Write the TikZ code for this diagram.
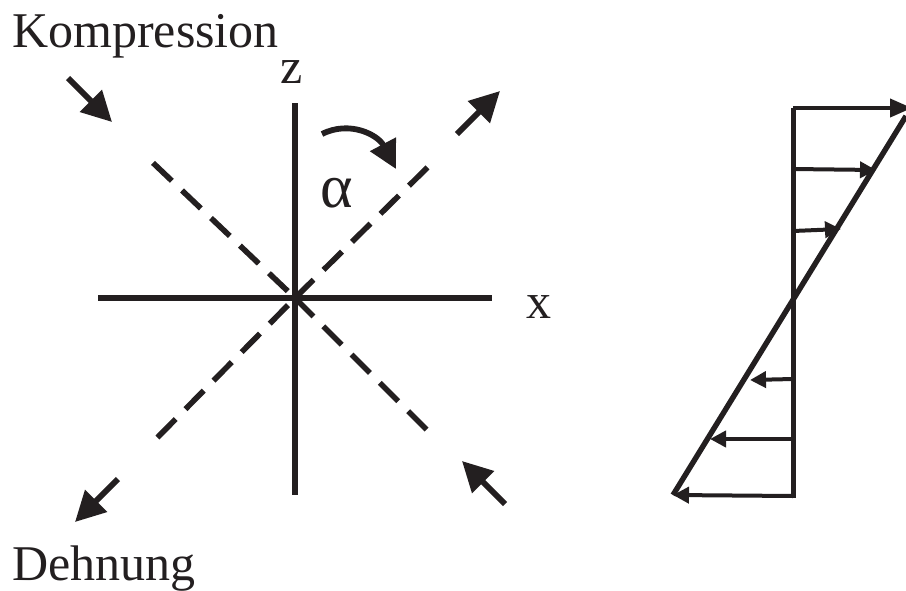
\documentclass[tikz,border=0pt]{standalone}
\usepackage{fontspec}
\setmainfont{Liberation Serif}
\usetikzlibrary{arrows.meta}
\definecolor{ink}{HTML}{231F20}
\begin{document}
\begin{tikzpicture}[x=1pt,y=-1pt,
  axis/.style={draw=ink,line width=6pt},
  dashline/.style={draw=ink,line width=5.6pt,dash pattern=on 26pt off 14pt},
  bigarrow/.style={draw=ink,line width=5.8pt,-{Triangle[length=30pt,width=30pt]}},
  shear/.style={draw=ink,line width=4pt,-{Triangle[length=16pt,width=16pt]}},
  lbl/.style={text=ink,font=\fontsize{50}{52}\selectfont,inner sep=0pt}]
\useasboundingbox (0,0) rectangle (906,590);
% cross
\coordinate (C) at (295,298);
\coordinate (zt) at (295,103);
\coordinate (zb) at (295,495);
\coordinate (xl) at (98,298);
\coordinate (xr) at (492,298);
\draw[axis] (zt) -- (zb);
\draw[axis] (xl) -- (xr);
% dashed diagonals
\coordinate (ne) at (433,162);
\coordinate (sw) at (155,440);
\coordinate (nw) at (150,160);
\coordinate (se) at (432,435);
\draw[dashline] (C) -- (ne);
\draw[dashline,dash phase=-10pt] (C) -- (sw);
\draw[dashline,dash phase=-10pt] (C) -- (nw);
\draw[dashline] (C) -- (se);
% outer arrows
\coordinate (a1s) at (457,134); \coordinate (a1e) at (500,91);
\coordinate (a2s) at (118,479); \coordinate (a2e) at (75,522);
\coordinate (a3s) at (68,78);   \coordinate (a3e) at (112,122);
\coordinate (a4s) at (505,504); \coordinate (a4e) at (462,461);
\draw[bigarrow] (a1s) -- (a1e);
\draw[bigarrow] (a2s) -- (a2e);
\draw[bigarrow] (a3s) -- (a3e);
\draw[bigarrow] (a4s) -- (a4e);
% alpha arc
\coordinate (arcS) at (322,134);
\coordinate (arcE) at (396,169);
\draw[draw=ink,line width=5.8pt,-{Triangle[length=28pt,width=28pt]}] (arcS) .. controls (350,120) and (378,135) .. (arcE);
% labels
\node[lbl,anchor=base west] (komp) at (12,47) {Kompression};
\node[lbl,anchor=base west] (deh) at (12,580) {Dehnung};
\node[lbl,anchor=base] (zlab) at (292,83) {z};
\node[lbl,anchor=base] (xlab) at (539,318) {x};
\node[lbl,anchor=base,font=\fontsize{62}{64}\selectfont] (alab) at (337,207) {α};
% shear profile
\coordinate (vt) at (793,108);
\coordinate (vb) at (793,498);
\coordinate (dt) at (906,116);
\coordinate (db) at (673,495);
\draw[draw=ink,line width=5pt] (vt) -- (vb);
\draw[draw=ink,line width=5.4pt] (dt) -- (db);
\coordinate (r1s) at (793,108); \coordinate (r1e) at (912,108);
\coordinate (r2s) at (793,169); \coordinate (r2e) at (876,170);
\coordinate (r3s) at (793,231); \coordinate (r3e) at (841,229);
\coordinate (r4s) at (793,379); \coordinate (r4e) at (750,380);
\coordinate (r5s) at (793,439); \coordinate (r5e) at (710,439);
\coordinate (r6s) at (793,496); \coordinate (r6e) at (673,495);
\draw[shear,-{Triangle[length=22pt,width=18pt]}] (r1s) -- (r1e);
\draw[shear] (r2s) -- (r2e);
\draw[shear] (r3s) -- (r3e);
\draw[shear] (r4s) -- (r4e);
\draw[shear] (r5s) -- (r5e);
\draw[shear] (r6s) -- (r6e);
\end{tikzpicture}
\end{document}
